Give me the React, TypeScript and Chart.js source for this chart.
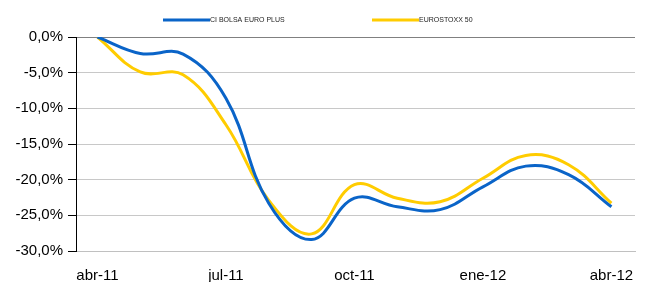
import React, { useEffect, useRef } from "react";
import { Chart, registerables } from "chart.js";

Chart.register(...registerables);

// monthly positions (0 = abr-11, 12 = abr-12)
const monthPos = [0, 1, 2, 3, 4, 5, 6, 7, 8, 9, 10, 11, 12];
const ciBolsa = [0, -2.3, -2.4, -8.6, -23.3, -28.4, -22.6, -23.8, -24.2, -21.0, -18.1, -19.3, -23.8];
const eurostoxx = [0, -4.9, -5.3, -12.3, -22.9, -27.6, -20.7, -22.6, -23.1, -19.8, -16.6, -17.9, -23.3];
const tickPos = [0, 3, 6, 9, 12];
const tickLabels = ["abr-11", "jul-11", "oct-11", "ene-12", "abr-12"];
const seriesNames = ["CI BOLSA EURO PLUS", "EUROSTOXX 50"];

const FONT = "'Liberation Sans', Arial, sans-serif";

const legendPlugin = {
  id: "customLegend",
  afterDraw(chart: any) {
    const ctx = chart.ctx;
    const starts = [163, 372];
    const y = 20;
    ctx.save();
    chart.data.datasets.forEach((ds: any, i: number) => {
      const x = starts[i];
      ctx.strokeStyle = ds.borderColor;
      ctx.lineWidth = 3;
      ctx.beginPath();
      ctx.moveTo(x, y);
      ctx.lineTo(x + 47, y);
      ctx.stroke();
      ctx.fillStyle = "#222";
      ctx.font = `7px ${FONT}`;
      ctx.textBaseline = "middle";
      ctx.textAlign = "left";
      ctx.fillText(ds.label, x + 47, y + 0.5);
    });
    ctx.restore();
  },
};

export default function App() {
  const ref = useRef<HTMLCanvasElement>(null);
  useEffect(() => {
    document.body.style.margin = "0";
    const chart = new Chart(ref.current!, {
      type: "line",
      data: {
        datasets: [
          {
            label: seriesNames[0],
            data: monthPos.map((m, i) => ({ x: m, y: ciBolsa[i] })),
            borderColor: "#0A64C8",
            borderWidth: 3,
            pointRadius: 0,
            tension: 0.4,
          },
          {
            label: seriesNames[1],
            data: monthPos.map((m, i) => ({ x: m, y: eurostoxx[i] })),
            borderColor: "#FFCC00",
            borderWidth: 3,
            pointRadius: 0,
            tension: 0.4,
          },
        ],
      },
      options: {
        animation: false,
        responsive: false,
        layout: { padding: { top: 37, left: 0, right: 16, bottom: 0 } },
        plugins: { legend: { display: false }, tooltip: { enabled: false } },
        scales: {
          x: {
            type: "linear",
            min: -0.5,
            max: 12.55,
            afterBuildTicks: (s: any) => {
              s.ticks = tickPos.map((v) => ({ value: v }));
            },
            afterFit: (s: any) => {
              s.height = 31;
            },
            ticks: {
              autoSkip: false,
              maxRotation: 0,
              padding: 16,
              color: "#000",
              font: { family: FONT, size: 15 },
              callback: (v: any) => {
                const idx = tickPos.indexOf(Number(v));
                return idx >= 0 ? tickLabels[idx] : "";
              },
            },
            grid: { display: false, drawTicks: false },
            border: { display: true, color: "#c0c0c0", width: 1 },
          },
          y: {
            min: -30,
            max: 0,
            afterFit: (s: any) => {
              s.width = 76;
            },
            ticks: {
              stepSize: 5,
              padding: 5,
              color: "#000",
              font: { family: FONT, size: 15 },
              callback: (v: any) => Number(v).toFixed(1).replace(".", ",") + "%",
            },
            grid: {
              color: (c: any) => (c.tick && c.tick.value === 0 ? "#808080" : "#c8c8c8"),
              tickColor: "#000",
              tickLength: 8,
              lineWidth: 1,
            },
            border: { display: true, color: "#000", width: 1 },
          },
        },
      },
      plugins: [legendPlugin],
    });
    return () => chart.destroy();
  }, []);
  return <canvas ref={ref} width={651} height={282} style={{ display: "block" }} />;
}
